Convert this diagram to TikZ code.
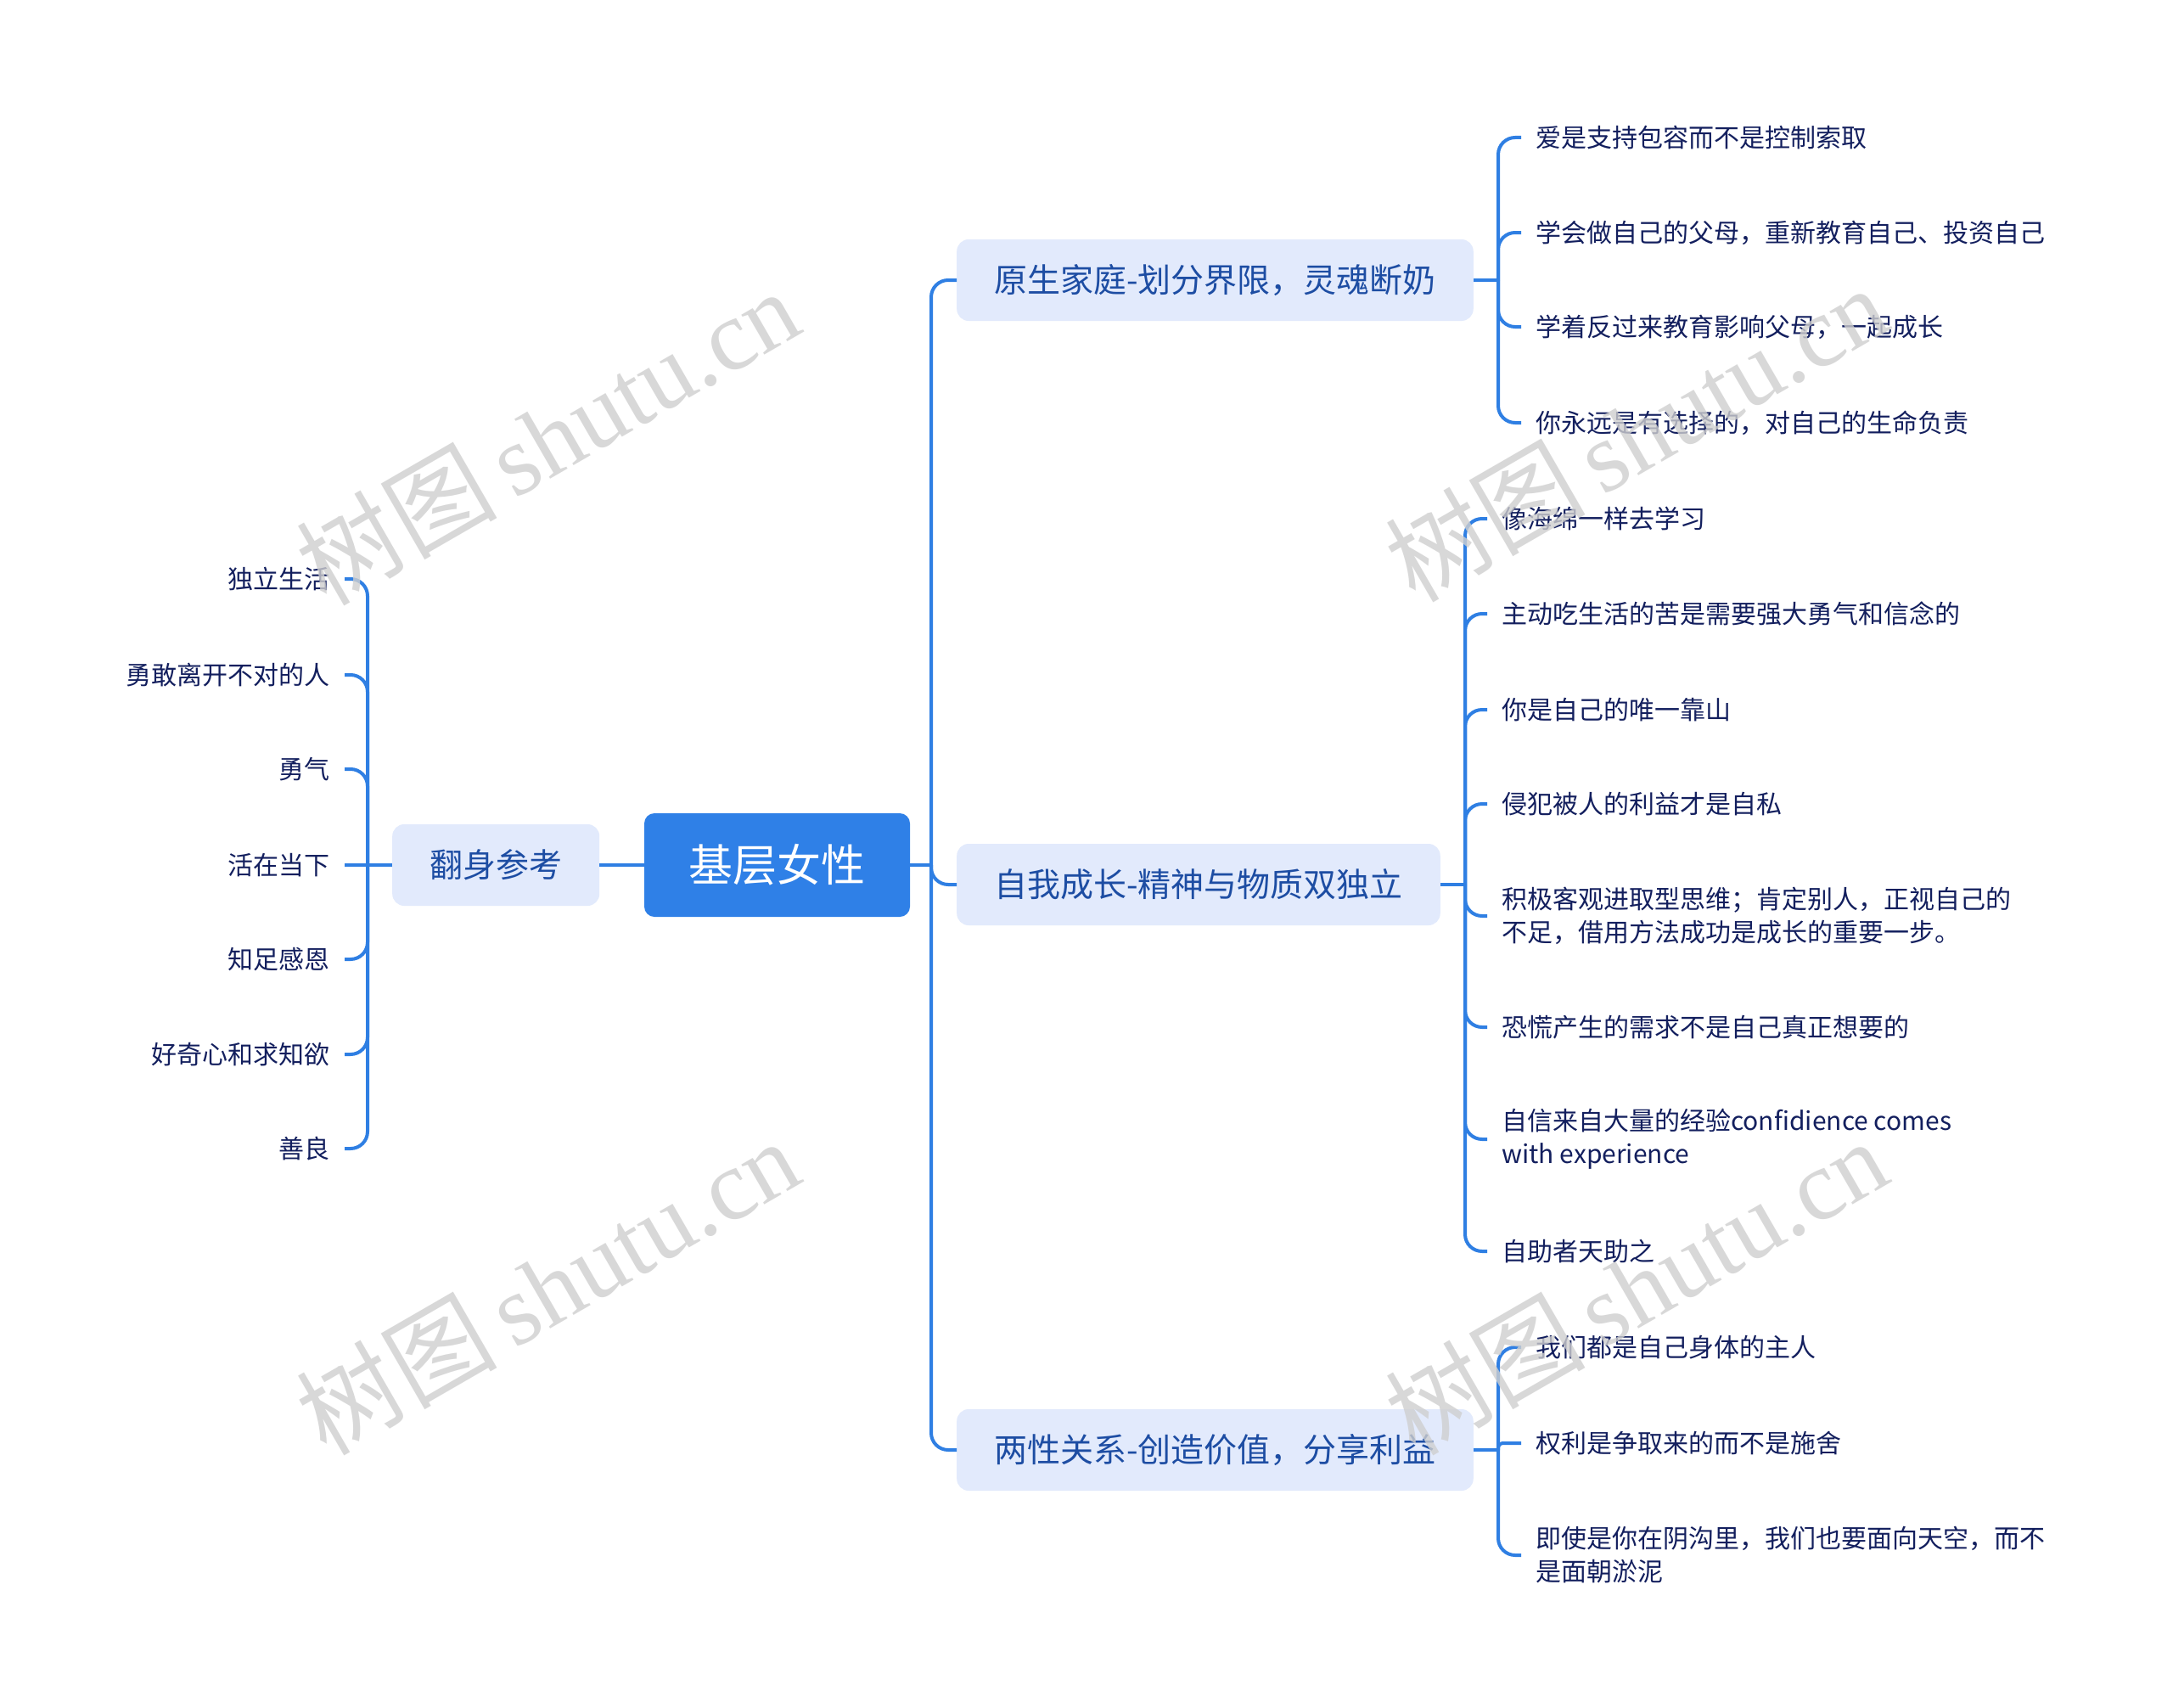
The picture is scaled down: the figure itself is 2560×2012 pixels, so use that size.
\documentclass[tikz,border=0pt]{standalone}
\usepackage{fontspec}
\setmainfont{Noto Sans CJK SC}
\newfontfamily\wmlatin{Liberation Serif}
\newfontfamily\wmcjk{Noto Sans CJK SC}
\definecolor{linec}{HTML}{2F7FE3}
\definecolor{rootc}{HTML}{2F80E7}
\definecolor{mainfill}{HTML}{E2EAFC}
\definecolor{maintext}{HTML}{1D4DA3}
\definecolor{leaftext}{HTML}{131F5E}
\definecolor{wmc}{HTML}{CFCFCF}
\begin{document}
\begin{tikzpicture}[x=1pt,y=-1pt,
  conn/.style={draw=linec, line width=4pt, rounded corners=20pt},
  rootbox/.style={fill=rootc, text=white, rounded corners=12pt, minimum width=313pt, minimum height=122pt, inner sep=0pt, font=\fontsize{52}{60}\selectfont, text height=45.8pt, text depth=6.2pt},
  mainbox/.style={fill=mainfill, text=maintext, rounded corners=14pt, inner xsep=44pt, inner ysep=0pt, minimum height=96pt, font=\fontsize{39}{47}\selectfont, text height=34.3pt, text depth=4.7pt},
  leafs/.style={text=leaftext, font=\fontsize{30}{39}\selectfont, inner xsep=17pt, inner ysep=0pt, text height=26.4pt, text depth=3.6pt},
  leafm/.style={text=leaftext, font=\fontsize{30}{39}\selectfont, inner xsep=17pt, inner ysep=0pt, align=left},
  wm/.style={text=wmc, opacity=0.8, rotate=30, inner sep=0pt, font=\fontsize{118}{130}\selectfont}
]
\fill[white] (0,0) rectangle (2560,2012);
\useasboundingbox (0,0) rectangle (2560,2012);

% root and main branches
\node[rootbox] (root) at (915.5,1019) {基层女性};
\node[mainbox, anchor=west] (fs) at (462,1019) {翻身参考};
\node[mainbox, anchor=west] (b1) at (1127,330) {原生家庭-划分界限，灵魂断奶};
\node[mainbox, anchor=west] (b2) at (1127,1042) {自我成长-精神与物质双独立};
\node[mainbox, anchor=west] (b3) at (1127,1708) {两性关系-创造价值，分享利益};

% junctions
\coordinate (jl) at (433,1019);
\coordinate (jr) at (1097,1019);
\coordinate (j1) at (1765,330);
\coordinate (j2) at (1726,1042);
\coordinate (j3) at (1765,1708);

% left leaves
\node[leafs, anchor=east] (l1) at (406,682) {独立生活};
\node[leafs, anchor=east] (l2) at (406,795) {勇敢离开不对的人};
\node[leafs, anchor=east] (l3) at (406,906) {勇气};
\node[leafs, anchor=east] (l4) at (406,1019) {活在当下};
\node[leafs, anchor=east] (l5) at (406,1130) {知足感恩};
\node[leafs, anchor=east] (l6) at (406,1242) {好奇心和求知欲};
\node[leafs, anchor=east] (l7) at (406,1353) {善良};

% branch 1 leaves
\node[leafs, anchor=west] (a1) at (1792,162) {爱是支持包容而不是控制索取};
\node[leafs, anchor=west] (a2) at (1792,274) {学会做自己的父母，重新教育自己、投资自己};
\node[leafs, anchor=west] (a3) at (1792,385) {学着反过来教育影响父母，一起成长};
\node[leafs, anchor=west] (a4) at (1792,498) {你永远是有选择的，对自己的生命负责};

% branch 2 leaves
\node[leafs, anchor=west] (c1) at (1752,611) {像海绵一样去学习};
\node[leafs, anchor=west] (c2) at (1752,723) {主动吃生活的苦是需要强大勇气和信念的};
\node[leafs, anchor=west] (c3) at (1752,836) {你是自己的唯一靠山};
\node[leafs, anchor=west] (c4) at (1752,947) {侵犯被人的利益才是自私};
\node[leafm, anchor=west] (c5) at (1752,1079) {积极客观进取型思维；肯定别人，正视自己的\\不足，借用方法成功是成长的重要一步。};
\node[leafs, anchor=west] (c6) at (1752,1210) {恐慌产生的需求不是自己真正想要的};
\node[leafm, anchor=west] (c7) at (1752,1342) {自信来自大量的经验confidience comes\\with experience};
\node[leafs, anchor=west] (c8) at (1752,1474) {自助者天助之};

% branch 3 leaves
\node[leafs, anchor=west] (d1) at (1792,1587) {我们都是自己身体的主人};
\node[leafs, anchor=west] (d2) at (1792,1700) {权利是争取来的而不是施舍};
\node[leafm, anchor=west] (d3) at (1792,1832) {即使是你在阴沟里，我们也要面向天空，而不\\是面朝淤泥};

% connectors
\draw[conn] (root.west) -- (fs.east);
\draw[conn] (fs.west) -- (jl);
\foreach \n in {l1,l2,l3,l5,l6,l7} {\draw[conn] (jl) |- (\n.east);}
\draw[conn] (jl) -- (l4.east);

\draw[conn] (root.east) -- (jr);
\foreach \n in {b1,b2,b3} {\draw[conn] (jr) |- (\n.west);}

\draw[conn] (b1.east) -- (j1);
\foreach \n in {a1,a2,a3,a4} {\draw[conn] (j1) |- (\n.west);}

\draw[conn] (b2.east) -- (j2);
\foreach \n in {c1,c2,c3,c4,c5,c6,c7,c8} {\draw[conn] (j2) |- (\n.west);}

\draw[conn] (b3.east) -- (j3);
\foreach \n in {d1,d3} {\draw[conn] (j3) |- (\n.west);}
\draw[conn, rounded corners=5pt] (j3) |- (d2.west);

% watermarks
\node[wm] (w1) at (645,514) {\wmcjk 树图\,\wmlatin shutu.cn};
\node[wm] (w2) at (1927,510) {\wmcjk 树图\,\wmlatin shutu.cn};
\node[wm] (w3) at (645,1515) {\wmcjk 树图\,\wmlatin shutu.cn};
\node[wm] (w4) at (1927,1515) {\wmcjk 树图\,\wmlatin shutu.cn};
\end{tikzpicture}
\end{document}
